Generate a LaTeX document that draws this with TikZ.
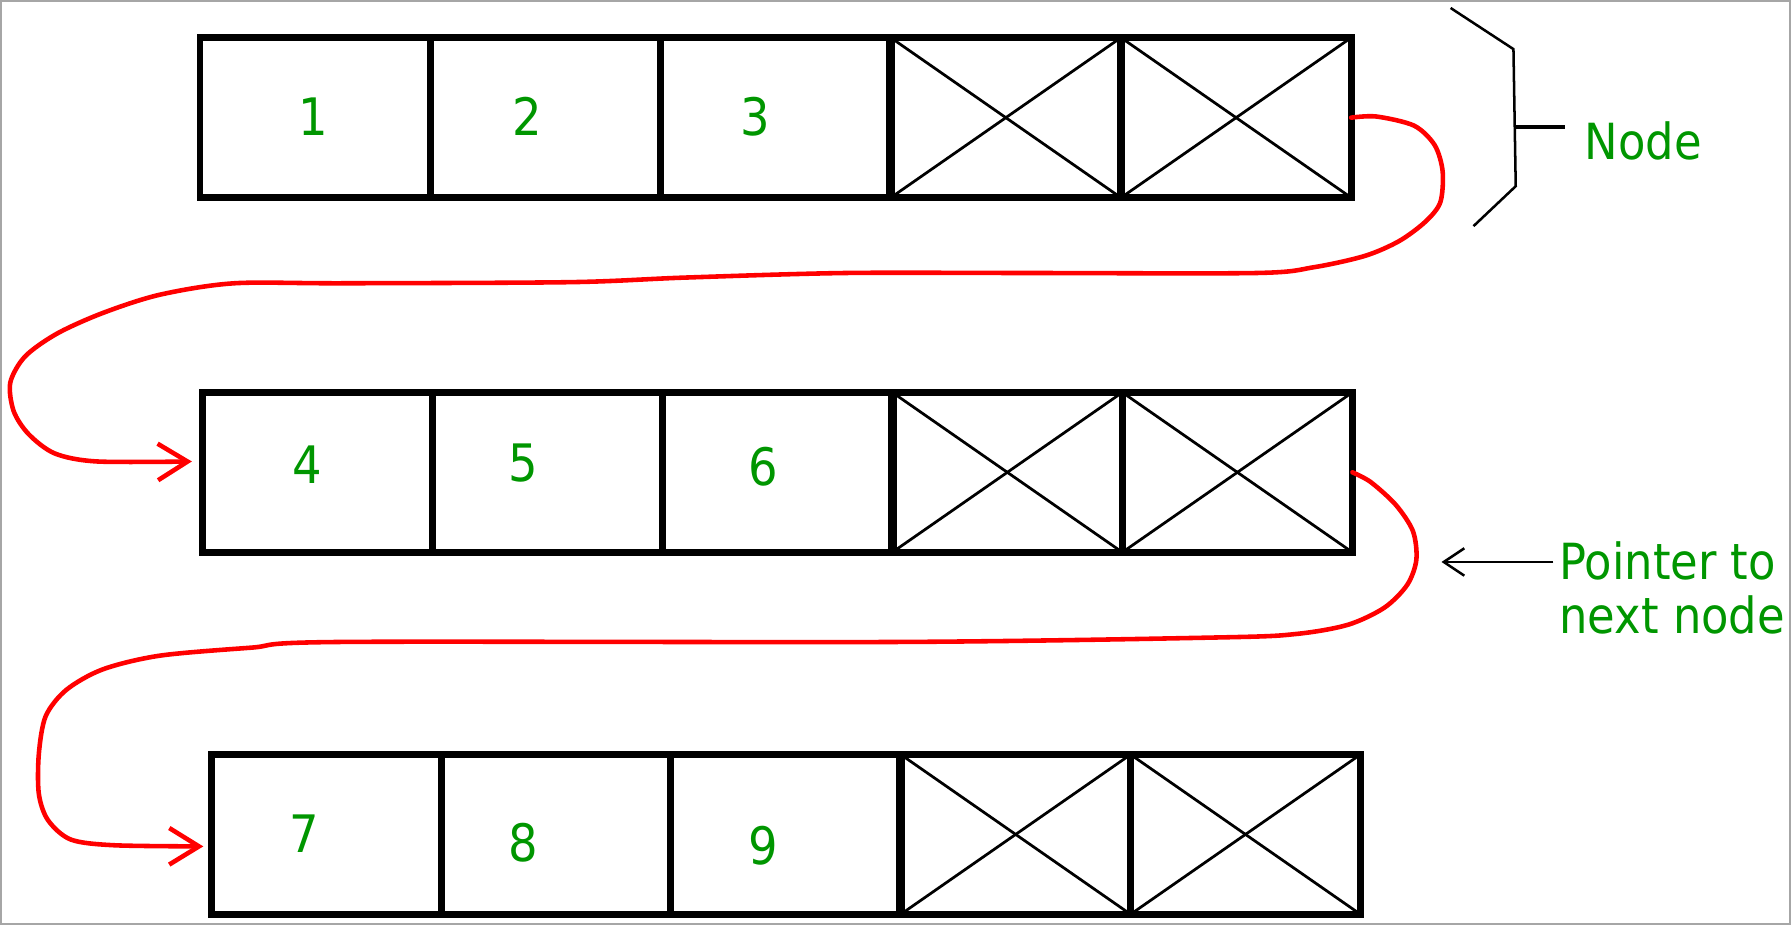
\documentclass[tikz,border=0pt]{standalone}
\usepackage{fontspec}
\setmainfont{DejaVu Sans Condensed}
\usetikzlibrary{arrows.meta}
\definecolor{lblgreen}{RGB}{0,150,0}
\definecolor{ptrred}{RGB}{255,0,0}
\tikzset{
  cell/.style={draw=black, line width=3pt, minimum width=100.7pt, minimum height=70pt, inner sep=0pt, outer sep=0pt},
  xline/.style={draw=black, line width=1.2pt},
  num/.style={text=lblgreen, font=\fontsize{22.6}{24}\selectfont, inner sep=0pt},
  lbl/.style={text=lblgreen, font=\fontsize{21.8}{23.5}\selectfont, inner sep=0pt, align=left},
  redptr/.style={draw=ptrred, line width=2pt, line cap=round, line join=round, -{Straight Barb[length=13pt,width=16pt,line width=2pt]}},
  blackline/.style={draw=black, line width=1.1pt},
}
\begin{document}
\begin{tikzpicture}[x=0.5pt,y=-0.5pt]
\useasboundingbox (0,0) rectangle (1568,810);
\draw[gray!70, line width=1pt] (1,1) rectangle (1567,809);
% rows of cells
\foreach \i in {1,...,5} {
  \node[cell] (a\i) at ({175+(\i-0.5)*201.6}, 103) {};
  \node[cell] (b\i) at ({177+(\i-0.5)*201.4}, 413.5) {};
  \node[cell] (c\i) at ({185+(\i-0.5)*201.2}, 730.5) {};
}
\foreach \r in {a,b,c} {
  \foreach \i in {4,5} {
    \draw[xline] (\r\i.north west) -- (\r\i.south east);
    \draw[xline] (\r\i.north east) -- (\r\i.south west);
  }
  \draw[line width=4pt] (\r4.north west) -- (\r4.south west);
}
% numbers
\node[num] (n1) at (274,102) {1};
\node[num] (n2) at (462,102) {2};
\node[num] (n3) at (661,102) {3};
\node[num] (n4) at (269,407) {4};
\node[num] (n5) at (458,405) {5};
\node[num] (n6) at (668,409) {6};
\node[num] (n7) at (266,730) {7};
\node[num] (n8) at (458,738) {8};
\node[num] (n9) at (668,740) {9};
% pointer targets
\coordinate (t1) at (168,404);
\coordinate (t2) at (178,741);
\draw[redptr] plot[smooth, tension=0.5] coordinates {
  (a5.east) (1205,102) (1238,110) (1256,127) (1263,150) (1261,177) (1248,194)
  (1225,211) (1195,224) (1150,234) (1100,239) (900,239) (740,239) (600,243)
  (500,247) (300,248) (205,248) (140,258) (90,274) (50,292) (22,312) (9,335)
  (12,360) (25,380) (48,397) (85,404) (t1)};
\draw[redptr] plot[smooth, tension=0.5] coordinates {
  (b5.east) (1200,422) (1222,442) (1237,465) (1240,490) (1232,512) (1212,532)
  (1180,547) (1135,555) (1070,558) (790,562) (300,562) (220,567) (140,574)
  (90,586) (58,604) (40,627) (34,660) (34,695) (42,718) (62,735) (100,740) (t2)};
% bracket and label
\coordinate (k1) at (1270,7);
\coordinate (k2) at (1325,43);
\coordinate (k3) at (1327,163);
\coordinate (k4) at (1290,198);
\coordinate (km) at (1326,111);
\draw[blackline] (k1) -- (k2) -- (k3) -- (k4);
\node[lbl, anchor=west] (nodelbl) at (1387,123) {Node};
\draw[draw=black, line width=1.6pt] (km) -- (1370,111);
% pointer label
\node[lbl, anchor=west] (ptrlbl) at (1365,515) {Pointer to\\next node};
\coordinate (pt) at (1262,492);
\draw[blackline, -{Straight Barb[length=9pt,width=12pt,line width=1.1pt]}] (1360,492) -- (pt);
\end{tikzpicture}
\end{document}
